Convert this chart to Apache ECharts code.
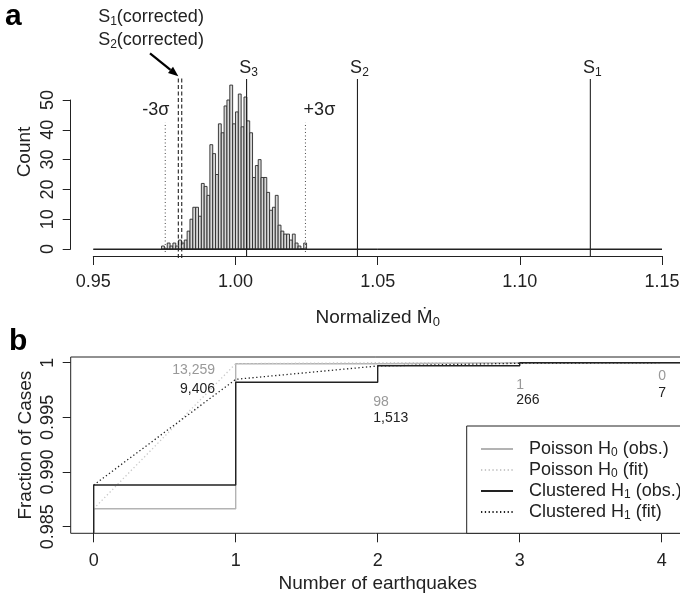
<!DOCTYPE html>
<html>
<head>
<meta charset="utf-8">
<script src="https://cdn.jsdelivr.net/npm/echarts@6/dist/echarts.min.js"></script>
<style>
  html, body { margin: 0; padding: 0; background: #ffffff; }
  #chart { width: 680px; height: 601px; }
</style>
</head>
<body>
<div id="chart"></div>
<script>
// ---------- Panel a: bootstrap distribution of normalized moment rate ----------
const binStart = 0.974;
const binWidth = 0.001;
const binCounts = [1, 0, 2, 1, 2, 1, 3, 2, 3, 6, 10, 14, 14, 11, 22, 21, 18, 35, 32, 25,
                   42, 39, 48, 50, 55, 42, 46, 52, 41, 51, 43, 39, 24, 28, 30, 24, 24, 19,
                   13, 14, 18, 8, 6, 5, 5, 3, 5, 2, 1, 0, 2];
const sigmaValues = [0.9753, 1.0246];
const sigmaLabels = ['-3σ', '+3σ'];
const segmentValues = [1.0039, 1.0429, 1.1248];
const segmentLabels = ['S{sub|3}', 'S{sub|2}', 'S{sub|1}'];
const correctedValues = [0.9799, 0.9811];
const correctedLabels = ['S{sub|1}(corrected)', 'S{sub|2}(corrected)'];

// ---------- Panel b: number of earthquakes per case ----------
const quakeCounts = [0, 1, 2, 3, 4];
const totalCases = 1000000;
const poissonCases = [13259, 98, 1, 0];      // cases with 1, 2, 3, 4 earthquakes
const clusteredCases = [9406, 1513, 266, 7];
const poissonFit = [0.98664, 0.99991, 1.0, 1.0, 1.0];
const clusteredFit = [0.98881, 0.99848, 0.99970, 0.99995, 1.0];
const seriesNames = ['Poisson H0 (obs.)', 'Poisson H0 (fit)', 'Clustered H1 (obs.)', 'Clustered H1 (fit)'];

// cumulative fraction of cases with at most k earthquakes
function cumulative(cases) {
  const zero = totalCases - cases.reduce((a, b) => a + b, 0);
  const out = [zero / totalCases];
  cases.forEach((c, i) => out.push(out[i] + c / totalCases));
  return out;
}
const poissonObs = cumulative(poissonCases);
const clusteredObs = cumulative(clusteredCases);

// ---------- styling / layout ----------
const FONT = '"Liberation Sans", Arial, Helvetica, sans-serif';
const INK = '#222222';
const GREY_OBS = '#b3b3b3';
const GREY_FIT = '#c9c9c9';
const GREY_TXT = '#999999';

function richText(size, color) {
  return {
    fontFamily: FONT, fontSize: size, lineHeight: size + 3, color: color,
    rich: { sub: { fontFamily: FONT, fontSize: Math.round(size * 0.66), lineHeight: 12, verticalAlign: 'bottom', color: color } }
  };
}

// panel a frame (pixels)
const A = { left: 93.3, right: 662, top: 79, axisY: 256, zeroY: 249, yAxisX: 70.7, fiftyY: 100 };
const countPerPx = 50 / (A.zeroY - A.fiftyY);
const countMin = -(A.axisY - A.zeroY) * countPerPx;
const countMax = (A.zeroY - A.top) * countPerPx;
const xRangeA = [0.95, 1.15];

// panel b frame (pixels); the box runs slightly past the right edge
const B = { boxLeft: 70.7, boxTop: 357, boxRight: 684.4, boxBottom: 533.3, x0: 93.7, x4: 661.7, yLow: 526.7, yHigh: 362.7 };
const bxPerPx = 4 / (B.x4 - B.x0);
const bxMin = -(B.x0 - B.boxLeft) * bxPerPx;
const bxMax = 4 + (B.boxRight - B.x4) * bxPerPx;
const byPerPx = 0.015 / (B.yLow - B.yHigh);
const byMin = 0.985 - (B.boxBottom - B.yLow) * byPerPx;
const byMax = 1 + (B.yHigh - B.boxTop) * byPerPx;

const chart = echarts.init(document.getElementById('chart'), null, { renderer: 'canvas' });

const histData = binCounts.map((c, i) => [binStart + i * binWidth, binStart + (i + 1) * binWidth, c]);

function vline(value, y0, y1, style, clip) {
  return {
    type: 'line', xAxisIndex: 0, yAxisIndex: 0, symbol: 'none', silent: true, clip: clip !== false,
    data: [[value, y0], [value, y1]], lineStyle: style, z: 4
  };
}

const stepTail = (arr) => arr.concat([[5, arr[arr.length - 1][1]]]);

const series = [
  // zero-count baseline under the histogram
  { type: 'line', xAxisIndex: 0, yAxisIndex: 0, symbol: 'none', silent: true, clip: false,
    data: [[xRangeA[0], 0], [xRangeA[1], 0]], lineStyle: { color: INK, width: 1 }, z: 4 },
  { type: 'custom', xAxisIndex: 0, yAxisIndex: 0, silent: true, data: histData,
    encode: { x: [0, 1], y: 2 },
    renderItem: function (params, api) {
      const lo = api.coord([api.value(0), api.value(2)]);
      const hi = api.coord([api.value(1), 0]);
      return { type: 'rect',
        shape: { x: lo[0], y: lo[1], width: hi[0] - lo[0], height: hi[1] - lo[1] },
        style: { fill: '#d8d8d8', stroke: '#2a2a2a', lineWidth: 0.9 } };
    }, z: 3 }
];
sigmaValues.forEach(v => series.push(vline(v, -1, 42.5, { color: '#444', width: 1, type: [1, 2.5] })));
correctedValues.forEach(v => series.push(vline(v, -3, 57.7, { color: INK, width: 1.1, type: [4, 2.5] }, false)));
segmentValues.forEach(v => series.push(vline(v, countMin, countMax, { color: INK, width: 1.1 })));

// panel b lines
series.push(
  { name: seriesNames[0], type: 'line', xAxisIndex: 1, yAxisIndex: 1, symbol: 'none', step: 'end', silent: true,
    data: stepTail([[0, 0]].concat(quakeCounts.map((k, i) => [k, poissonObs[i]]))),
    lineStyle: { color: GREY_OBS, width: 1.4 }, itemStyle: { color: GREY_OBS }, z: 2 },
  { name: seriesNames[1], type: 'line', xAxisIndex: 1, yAxisIndex: 1, symbol: 'none', silent: true,
    data: quakeCounts.map((k, i) => [k, poissonFit[i]]),
    lineStyle: { color: GREY_FIT, width: 1.3, type: [1.3, 2.5] }, itemStyle: { color: GREY_FIT }, z: 2 },
  { name: seriesNames[2], type: 'line', xAxisIndex: 1, yAxisIndex: 1, symbol: 'none', step: 'end', silent: true,
    data: stepTail([[0, 0]].concat(quakeCounts.map((k, i) => [k, clusteredObs[i]]))),
    lineStyle: { color: INK, width: 1.4 }, itemStyle: { color: INK }, z: 3 },
  { name: seriesNames[3], type: 'line', xAxisIndex: 1, yAxisIndex: 1, symbol: 'none', silent: true,
    data: quakeCounts.map((k, i) => [k, clusteredFit[i]]),
    lineStyle: { color: INK, width: 1.3, type: [1.3, 2.5] }, itemStyle: { color: INK }, z: 3 }
);

const axisLineStyle = { color: INK, width: 1 };
const tickLabel = { fontFamily: FONT, fontSize: 18, color: INK };
const hiddenAxis = (gridIndex, min, max) => ({ gridIndex: gridIndex, type: 'value', min: min, max: max, show: false });

const option = {
  animation: false,
  backgroundColor: '#ffffff',
  textStyle: { fontFamily: FONT },
  grid: [
    // 0: histogram plotting area
    { left: A.left, top: A.top, width: A.right - A.left, height: A.axisY - A.top, outerBoundsMode: 'none', containLabel: false },
    // 1: panel b plotting box
    { left: B.boxLeft, top: B.boxTop, width: B.boxRight - B.boxLeft, height: B.boxBottom - B.boxTop,
      show: true, borderColor: INK, borderWidth: 1, backgroundColor: 'transparent', outerBoundsMode: 'none', containLabel: false },
    // 2: count axis of panel a
    { left: A.yAxisX, top: A.fiftyY, width: 10, height: A.zeroY - A.fiftyY, outerBoundsMode: 'none', containLabel: false },
    // 3: tick axes of panel b
    { left: B.x0, top: B.yHigh, width: B.x4 - B.x0, height: B.yLow - B.yHigh, outerBoundsMode: 'none', containLabel: false },
    // 4: normalized moment-rate axis of panel a
    { left: A.left, top: A.top, width: A.right - A.left, height: A.axisY - A.top, outerBoundsMode: 'none', containLabel: false }
  ],
  xAxis: [
    hiddenAxis(0, xRangeA[0], xRangeA[1]),
    hiddenAxis(1, bxMin, bxMax),
    hiddenAxis(2, 0, 1),
    { gridIndex: 3, type: 'value', min: 0, max: 4, interval: 1, offset: B.boxBottom - B.yLow,
      axisLine: { show: false, onZero: false },
      axisTick: { show: true, inside: false, length: 9, lineStyle: axisLineStyle },
      axisLabel: Object.assign({ margin: 19 }, tickLabel),
      splitLine: { show: false },
      name: 'Number of earthquakes', nameLocation: 'middle', nameGap: 41,
      nameTextStyle: { fontFamily: FONT, fontSize: 19, color: INK } },
    { gridIndex: 4, type: 'value', min: xRangeA[0], max: xRangeA[1], interval: 0.05,
      axisLine: { show: true, onZero: false, lineStyle: axisLineStyle },
      axisTick: { show: true, inside: false, length: 9, lineStyle: axisLineStyle },
      axisLabel: Object.assign({ margin: 17, formatter: v => v.toFixed(2) }, tickLabel),
      splitLine: { show: false },
      name: 'Normalized Ṁ{sub|0}', nameLocation: 'middle', nameGap: 51, nameTextStyle: richText(19, INK) }
  ],
  yAxis: [
    hiddenAxis(0, countMin, countMax),
    { gridIndex: 1, type: 'value', min: byMin, max: byMax,
      axisLine: { show: false, onZero: false }, axisTick: { show: false }, axisLabel: { show: false }, splitLine: { show: false },
      name: 'Fraction of Cases', nameLocation: 'middle', nameGap: 35,
      nameTextStyle: { fontFamily: FONT, fontSize: 19, color: INK } },
    { gridIndex: 2, type: 'value', min: 0, max: 50, interval: 10,
      axisLine: { show: true, onZero: false, lineStyle: axisLineStyle },
      axisTick: { show: true, inside: false, length: 8, lineStyle: axisLineStyle },
      axisLabel: Object.assign({ rotate: 90, margin: 14 }, tickLabel),
      splitLine: { show: false } },
    { gridIndex: 3, type: 'value', min: 0.985, max: 1, interval: 0.005, offset: B.x0 - B.boxLeft,
      axisLine: { show: false, onZero: false },
      axisTick: { show: true, inside: false, length: 8, lineStyle: axisLineStyle },
      axisLabel: Object.assign({ rotate: 90, margin: 14,
        formatter: v => (Math.abs(v - 1) < 1e-9 ? '1' : v.toFixed(3)) }, tickLabel),
      splitLine: { show: false } },
    hiddenAxis(4, 0, 1)
  ],
  legend: {
    orient: 'vertical', left: 480, top: 439, padding: 0, itemWidth: 32, itemHeight: 12, itemGap: 1,
    selectedMode: false, data: seriesNames,
    itemStyle: { opacity: 0 },
    formatter: name => name.replace(/H([01])/, 'H{sub|$1}'),
    textStyle: Object.assign(richText(18, INK), { lineHeight: 20, padding: [0, 0, 0, 11] })
  },
  series: series
};

chart.setOption(option);

// ---------- annotations placed through the axes ----------
const g = [];
function txt(x, y, text, size, color, align, extra) {
  const st = richText(size, color);
  return Object.assign({ type: 'text', x: x, y: y, silent: true, z: 10,
    style: { text: text, fontFamily: FONT, fontSize: size, lineHeight: st.lineHeight, fill: color,
             align: align || 'center', verticalAlign: 'middle', rich: st.rich } }, extra || {});
}

// horizontal rules of panel a: the zero-count baseline and the axis line beneath it
[[0, xRangeA, 0], [4, xRangeA, 0]].forEach(([gridIndex, range, y]) => {
  const l = chart.convertToPixel({ gridIndex: gridIndex }, [range[0], y]);
  const r = chart.convertToPixel({ gridIndex: gridIndex }, [range[1], y]);
  const py = Math.round(l[1]) + 0.5;
  g.push({ type: 'line', silent: true, z: 5, shape: { x1: l[0], y1: py, x2: r[0], y2: py },
           style: { stroke: INK, lineWidth: 1 } });
});

// panel letters and the free-standing axis title
g.push(txt(5, 17, 'a', 30, '#000', 'left', { style: { text: 'a', font: 'bold 30px ' + FONT, fill: '#000', align: 'left', verticalAlign: 'middle' } }));
g.push(txt(9, 342, 'b', 30, '#000', 'left', { style: { text: 'b', font: 'bold 30px ' + FONT, fill: '#000', align: 'left', verticalAlign: 'middle' } }));
g.push(txt(25, 152, 'Count', 19, INK, 'center', { rotation: Math.PI / 2 }));

// ±3σ labels
const sigmaShift = [-9.5, 14];
sigmaValues.forEach((v, i) => {
  const p = chart.convertToPixel({ gridIndex: 0 }, [v, 42.5]);
  g.push(txt(p[0] + sigmaShift[i], p[1] - 12, sigmaLabels[i], 18, INK));
});

// segment labels above their lines
segmentValues.forEach((v, i) => {
  const p = chart.convertToPixel({ gridIndex: 0 }, [v, countMax]);
  g.push(txt(p[0] + 2, p[1] - 11, segmentLabels[i], 18, INK));
});

// arrow pointing at the corrected values
const head = chart.convertToPixel({ gridIndex: 0 }, [correctedValues[0], 58]);
const tail = [head[0] - 28.3, head[1] - 22.7];
const dx = head[0] - tail[0], dy = head[1] - tail[1], len = Math.hypot(dx, dy);
const ux = dx / len, uy = dy / len;
const base = [head[0] - 10 * ux, head[1] - 10 * uy];
g.push({ type: 'line', silent: true, z: 10, shape: { x1: tail[0], y1: tail[1], x2: base[0], y2: base[1] },
         style: { stroke: '#000', lineWidth: 2.2 } });
g.push({ type: 'polygon', silent: true, z: 10,
         shape: { points: [head, [base[0] - 4 * uy, base[1] + 4 * ux], [base[0] + 4 * uy, base[1] - 4 * ux]] },
         style: { fill: '#000' } });
g.push(txt(tail[0] + 1, tail[1] - 36.5, correctedLabels[0], 18, INK));
g.push(txt(tail[0] + 1, tail[1] - 13.5, correctedLabels[1], 18, INK));

// case counts beside each step of panel b
const countPlacement = [
  { dx: -20.7, align: 'right', dyTop: 7.3, dyBottom: 26.3 },
  { dx: -4.4, align: 'left', dyTop: 39, dyBottom: 55.6 },
  { dx: -3.5, align: 'left', dyTop: 22.3, dyBottom: 37.6 },
  { dx: -3.5, align: 'left', dyTop: 13.3, dyBottom: 30 }
];
quakeCounts.slice(1).forEach((k, i) => {
  const p = chart.convertToPixel({ gridIndex: 3 }, [k, 1]);
  const pl = countPlacement[i];
  g.push(txt(p[0] + pl.dx, p[1] + pl.dyTop, poissonCases[i].toLocaleString('en-US'), 14, GREY_TXT, pl.align));
  g.push(txt(p[0] + pl.dx, p[1] + pl.dyBottom, clusteredCases[i].toLocaleString('en-US'), 14, INK, pl.align));
});

// legend frame, anchored to the bottom-right corner of the box
g.push({ type: 'rect', silent: true, z: 1,
         shape: { x: 466.7, y: 426, width: B.boxRight - 466.7, height: B.boxBottom - 426 },
         style: { fill: '#ffffff', stroke: INK, lineWidth: 1 } });

chart.setOption({ graphic: g });
</script>
</body>
</html>
